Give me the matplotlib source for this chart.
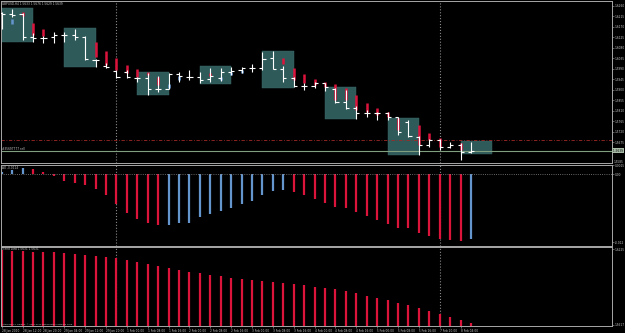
import matplotlib
matplotlib.use('Agg')
import matplotlib.pyplot as plt
from matplotlib.patches import Rectangle

# GBPUSD H4 bars
opens = [1.6229, 1.6224, 1.6224, 1.6126, 1.6122, 1.6126, 1.6134, 1.6134, 1.6126, 1.6029,
         1.6002, 1.5981, 1.5976, 1.5952, 1.5950, 1.5903, 1.5903, 1.5967, 1.5954, 1.5954,
         1.5946, 1.5950, 1.5976, 1.5984, 1.5993, 1.5993, 1.6036, 1.5989, 1.5950, 1.5916,
         1.5916, 1.5929, 1.5903, 1.5847, 1.5822, 1.5800, 1.5800, 1.5800, 1.5783, 1.5762,
         1.5697, 1.5663, 1.5684, 1.5654, 1.5663, 1.5633]
highs = [1.6234, 1.6245, 1.6229, 1.6143, 1.6130, 1.6149, 1.6147, 1.6160, 1.6130, 1.6032,
         1.6014, 1.5984, 1.5984, 1.5954, 1.5972, 1.5959, 1.5972, 1.5977, 1.5984, 1.5976,
         1.5993, 1.5993, 1.5997, 1.5997, 1.6010, 1.6062, 1.6066, 1.6002, 1.5954, 1.5929,
         1.5933, 1.5929, 1.5907, 1.5899, 1.5830, 1.5813, 1.5806, 1.5804, 1.5784, 1.5770,
         1.5701, 1.5689, 1.5689, 1.5676, 1.5672, 1.5676]
lows = [1.6160, 1.6213, 1.6113, 1.6104, 1.6101, 1.6101, 1.6106, 1.6113, 1.6027, 1.5999,
        1.5991, 1.5950, 1.5949, 1.5934, 1.5877, 1.5891, 1.5903, 1.5934, 1.5942, 1.5929,
        1.5933, 1.5937, 1.5963, 1.5972, 1.5976, 1.5984, 1.5989, 1.5933, 1.5912, 1.5899,
        1.5907, 1.5894, 1.5843, 1.5817, 1.5774, 1.5784, 1.5770, 1.5770, 1.5706, 1.5697,
        1.5620, 1.5654, 1.5642, 1.5652, 1.5599, 1.5629]
closes = [1.6224, 1.6220, 1.6126, 1.6122, 1.6122, 1.6136, 1.6134, 1.6127, 1.6030, 1.6027,
          1.5997, 1.5956, 1.5954, 1.5950, 1.5903, 1.5903, 1.5967, 1.5959, 1.5956, 1.5942,
          1.5959, 1.5976, 1.5980, 1.5993, 1.5993, 1.6032, 1.5989, 1.5950, 1.5916, 1.5916,
          1.5929, 1.5912, 1.5847, 1.5822, 1.5800, 1.5800, 1.5800, 1.5783, 1.5719, 1.5701,
          1.5663, 1.5684, 1.5654, 1.5663, 1.5633, 1.5639]

# coloured segments drawn on top of the bars (None = nothing drawn)
seg_top = [None, 1.6203, 1.6233, 1.6187, 1.6160, None, None, None, None, 1.6106,
           1.6067, 1.6036, 1.6006, 1.5989, 1.5976, 1.5954, 1.5924, 1.5959, None, None,
           1.5972, 1.5954, 1.5976, 1.5984, None, None, None, 1.6036, 1.5993, 1.5967,
           1.5946, 1.5933, 1.5924, 1.5907, 1.5877, 1.5843, 1.5822, 1.5804, 1.5779, None,
           1.5749, 1.5714, 1.5693, None, 1.5672, None]
seg_bot = [None, 1.6182, 1.6216, 1.6134, 1.6130, None, None, None, None, 1.6041,
           1.6006, 1.5984, 1.5972, 1.5954, 1.5963, 1.5920, 1.5907, 1.5942, None, None,
           1.5959, 1.5942, 1.5963, 1.5972, None, None, None, 1.6010, 1.5942, 1.5929,
           1.5920, 1.5912, 1.5856, 1.5856, 1.5813, 1.5804, 1.5792, 1.5783, 1.5727, None,
           1.5663, 1.5684, 1.5654, None, 1.5642, None]
seg_col = 'xbrrrxxxxrrrrrrrbbxxrbbbxxxrrrrrrrrrrrrxrrrxrx'

# session boxes: first bar, top, bottom (each spans 3 bars)
box_start = [0, 6, 13, 19, 25, 31, 37, 44]
box_top = [1.6249, 1.6163, 1.5977, 1.6003, 1.6067, 1.5910, 1.5777, 1.5681]
box_bot = [1.6106, 1.5996, 1.5877, 1.5923, 1.5906, 1.5773, 1.5620, 1.5624]

# Awesome Oscillator
ao = [0.0004, 0.0007, 0.0010, 0.0009, 0.0004, -0.0003, -0.0012, -0.0016, -0.0019, -0.0027,
      -0.0037, -0.0053, -0.0068, -0.0078, -0.0085, -0.0090, -0.0089, -0.0086, -0.0085, -0.0076,
      -0.0070, -0.0064, -0.0059, -0.0053, -0.0047, -0.0036, -0.0029, -0.0028, -0.0031, -0.0036,
      -0.0043, -0.0051, -0.0057, -0.0060, -0.0067, -0.0073, -0.0081, -0.0088, -0.0094, -0.0095,
      -0.0103, -0.0109, -0.0113, -0.0116, -0.0118, -0.0114]
ao_up = [1, 1, 1, 0, 0, 0, 0, 0, 0, 0, 0, 0, 0, 0, 0, 0, 1, 1, 1, 1, 1, 1, 1, 1, 1, 1, 1, 1,
         0, 0, 0, 0, 0, 0, 0, 0, 0, 0, 0, 0, 0, 0, 0, 0, 0, 1]

# Trend Lord
trend = [1.6217, 1.6209, 1.6209, 1.6203, 1.6201, 1.6199, 1.6193, 1.6187, 1.6179, 1.6171,
         1.6161, 1.6151, 1.6137, 1.6123, 1.6107, 1.6091, 1.6075, 1.6059, 1.6043, 1.6031,
         1.6019, 1.6009, 1.5995, 1.5985, 1.5977, 1.5969, 1.5961, 1.5953, 1.5945, 1.5937,
         1.5923, 1.5913, 1.5903, 1.5887, 1.5871, 1.5851, 1.5833, 1.5815, 1.5795, 1.5775,
         1.5751, 1.5729, 1.5705, 1.5681, 1.5657, 1.5631]

date_labels = ['28 Jan 2010', '28 Jan 12:00', '28 Jan 20:00', '29 Jan 04:00', '29 Jan 12:00',
               '29 Jan 20:00', '1 Feb 00:00', '1 Feb 08:00', '1 Feb 16:00', '2 Feb 00:00',
               '2 Feb 08:00', '2 Feb 16:00', '3 Feb 00:00', '3 Feb 08:00', '3 Feb 16:00',
               '4 Feb 00:00', '4 Feb 08:00', '4 Feb 16:00', '5 Feb 00:00', '5 Feb 08:00',
               '5 Feb 16:00', '7 Feb 20:00', '8 Feb 04:00']
price_ticks = [1.6260, 1.6215, 1.6170, 1.6125, 1.6080, 1.6035, 1.5990, 1.5945, 1.5900,
               1.5855, 1.5810, 1.5765, 1.5720, 1.5675]
week_starts = [11, 42]
stop_level = 1.5684
order_level = 1.5639

RED = '#dc143c'
BLUE = '#6495cd'
GREY = '#a8a8a8'
TXT = '#c8c8c8'
FS = 2.1

W, H = 625, 333
fig = plt.figure(figsize=(W / 100, H / 100), dpi=100, facecolor='black')


def panel(top, bottom):
    ax = fig.add_axes([1 / W, 1 - bottom / H, 611 / W, (bottom - top) / H], facecolor='black')
    ax.set_xlim(-0.067, 58.51)
    for s in ax.spines.values():
        s.set_color(GREY)
        s.set_linewidth(0.7)
    ax.yaxis.tick_right()
    ax.tick_params(axis='y', colors=GREY, labelcolor=TXT, labelsize=FS, length=1.2,
                   width=0.4, pad=0.6)
    for xs in week_starts:
        ax.axvline(xs, color='#8a8a8a', ls=':', lw=0.8, zorder=1)
    return ax


ax1 = panel(1, 163)
ax2 = panel(165, 246)
ax3 = panel(247, 326)

# main price window
x = list(range(len(closes)))
for s, t, b in zip(box_start, box_top, box_bot):
    ax1.add_patch(Rectangle((s, b), 3, t - b, fc='#2f5a5a', ec='#3c6c6c', lw=0.3, zorder=0))
for i in x:
    if seg_top[i] is not None:
        c = RED if seg_col[i] == 'r' else BLUE
        ax1.vlines(i, seg_bot[i], seg_top[i], color=c, lw=1.8, zorder=2)
ax1.vlines(x, lows, highs, color='white', lw=0.8, zorder=3)
ax1.hlines(opens, [i - 0.3 for i in x], x, color='white', lw=0.8, zorder=3)
ax1.hlines(closes, x, [i + 0.3 for i in x], color='white', lw=0.8, zorder=3)
ax1.axhline(stop_level, color='#a02828', ls=(0, (4, 2, 1, 2)), lw=0.6, zorder=1)
ax1.axhline(order_level, color='#7f9f7f', lw=0.8, zorder=1)
ax1.set_ylim(1.55859, 1.62801)
ax1.set_yticks(price_ticks)
ax1.set_yticklabels(['%.4f' % p for p in price_ticks])
ax1.set_xticks([])
ax1.text(1.0, order_level, ' %.4f ' % order_level, transform=ax1.get_yaxis_transform(),
         ha='left', va='center', fontsize=FS, color='black',
         bbox=dict(fc='#a8bca8', ec='none', pad=0.3))
ax1.text(0.002, order_level, '#35697777 sell', transform=ax1.get_yaxis_transform(),
         ha='left', va='bottom', fontsize=FS, color=TXT)
fig.text(2 / W, 1 - 4 / H, 'GBPUSD,H4 %.4f %.4f %.4f %.4f' % (opens[-1], highs[-1], lows[-1], closes[-1]),
         ha='left', va='center', fontsize=FS, color=TXT)
fig.text(613.5 / W, 1 - 162 / H, '1.5585', ha='left', va='center', fontsize=FS, color=TXT)

# Awesome Oscillator window
ax2.vlines(x, 0, ao, colors=[BLUE if u else RED for u in ao_up], lw=1.6)
ax2.axhline(0, color='#8a8a8a', ls=':', lw=0.6)
ax2.set_ylim(-0.0126, 0.001575)
ax2.set_yticks([0.0015, 0, -0.0119])
ax2.set_yticklabels(['0.0015', '0.00', '-0.012'])
ax2.set_xticks([])
fig.text(2 / W, 1 - 167.5 / H, 'AO %.4f' % ao[-1], ha='left', va='center', fontsize=FS, color=TXT)

# Trend Lord window
ax3.vlines(x, 1.5609, trend, color=RED, lw=1.6)
ax3.set_ylim(1.5609, 1.6241)
ax3.set_yticks([1.6225, 1.5617])
ax3.set_yticklabels(['1.6225', '1.5617'])
ax3.set_xticks(range(0, 46, 2))
ax3.set_xticklabels(date_labels, ha='left')
ax3.tick_params(axis='x', colors=GREY, labelcolor=TXT, labelsize=FS, length=1.5, width=0.4, pad=0.8)
fig.text(2 / W, 1 - 249.5 / H, 'Trend Lord %.4f %.4f' % (trend[-1], trend[-1]),
         ha='left', va='center', fontsize=FS, color=TXT)
fig.text(2 / W, 1 - 324 / H, 'Interbank FX Trading, \u00a9 2001-2010 MetaQuotes Software Corp.',
         ha='left', va='center', fontsize=1.6, color=TXT)

fig.savefig('out.png', dpi=100, facecolor='black')
